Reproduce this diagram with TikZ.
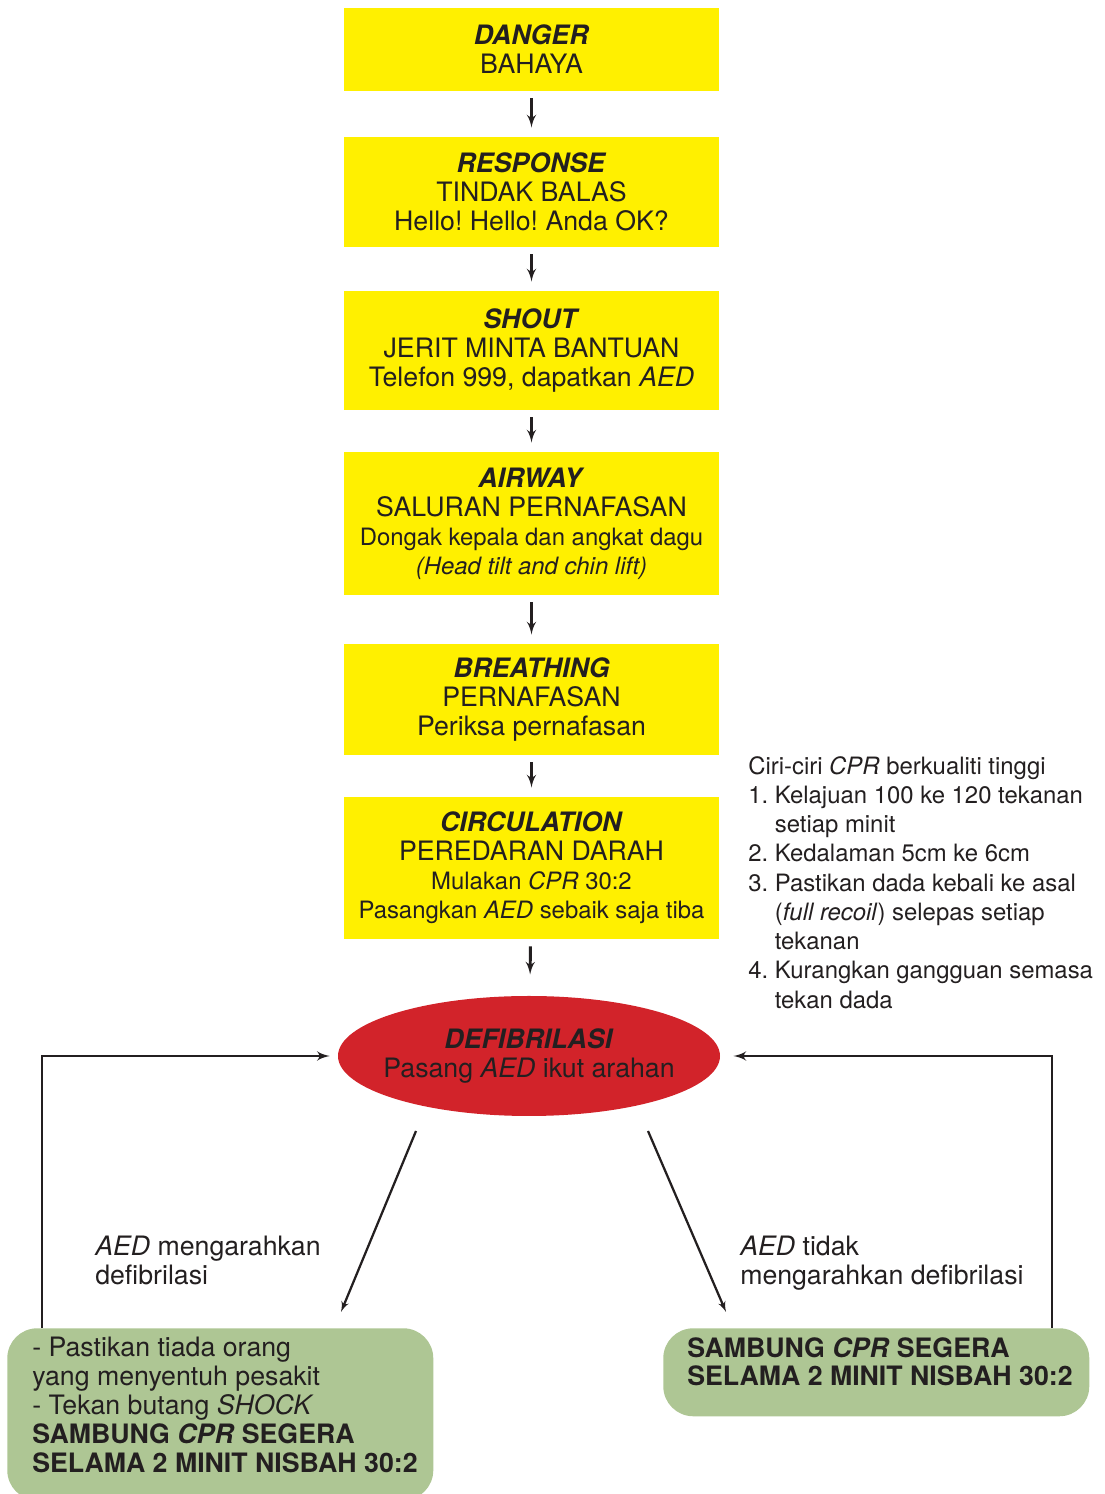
\documentclass[tikz,border=0pt]{standalone}
\usepackage{fontspec}
\setmainfont{TeX Gyre Heros}
\usepackage{tikz}
\usetikzlibrary{arrows,shapes.geometric,positioning}
\definecolor{cprYellow}{HTML}{FFF000}
\definecolor{cprRed}{HTML}{D2232A}
\definecolor{cprGreen}{HTML}{AEC694}
\definecolor{cprInk}{HTML}{231F20}
\frenchspacing
\newcommand{\mainsize}{\fontsize{19}{20.55}\selectfont}
\newcommand{\smallline}{\fontsize{17}{20.55}\selectfont}
\newcommand{\notesize}{\fontsize{17}{20.8}\selectfont}
\tikzstyle{stage}=[fill=cprYellow,minimum width=9.375cm,inner sep=0pt,align=center,font=\mainsize]
\tikzstyle{post}=[->,shorten >=0.23cm,shorten <=0.18cm,line width=2.1pt,>=latex']
\tikzstyle{back}=[->,line width=2.1pt,>=latex']
\tikzstyle{diag}=[->,line width=1.6pt,>=latex']
\tikzstyle{outcome}=[fill=cprGreen,rounded corners=0.75cm,minimum width=10.65cm,inner sep=0pt,anchor=north west]
\tikzstyle{plain}=[anchor=north west,inner sep=0pt,align=left]

\begin{document}
\begin{tikzpicture}[
    color=cprInk,
    text=cprInk
    ]
    \useasboundingbox (0,0) rectangle (27.625,37.35);
    \node[stage,minimum height=2.075cm](danger) at (13.2875,36.1125){\textbf{\textit{DANGER}}\\BAHAYA};
    \node[stage,minimum height=2.75cm](response) at (13.2875,32.55){\textbf{\textit{RESPONSE}}\\TINDAK BALAS\\Hello! Hello! Anda OK?};
    \node[stage,minimum height=2.975cm](shout) at (13.2875,28.5875){\textbf{\textit{SHOUT}}\\JERIT MINTA BANTUAN\\Telefon 999, dapatkan \textit{AED}};
    \node[stage,minimum height=3.575cm](airway) at (13.2875,24.2625){\textbf{\textit{AIRWAY}}\\SALURAN PERNAFASAN\\\smallline Dongak kepala dan angkat dagu\\\smallline\textit{(Head tilt and chin lift)}};
    \node[stage,minimum height=2.775cm](breathing) at (13.2875,19.8625){\textbf{\textit{BREATHING}}\\PERNAFASAN\\Periksa pernafasan};
    \node[stage,minimum height=3.55cm](circulation) at (13.2875,15.65){\textbf{\textit{CIRCULATION}}\\PEREDARAN DARAH\\\smallline Mulakan \textit{CPR} 30:2\\\smallline Pasangkan \textit{AED} sebaik saja tiba};
    \node[ellipse,fill=cprRed,minimum width=9.55cm,minimum height=3cm,inner xsep=-0.4cm,inner ysep=0pt,align=center,font=\mainsize](defib) at (13.225,10.95){\textbf{\textit{DEFIBRILASI}}\\Pasang \textit{AED} ikut arahan};
    \node[plain,font=\notesize](quality) at (18.7,18.45){Ciri-ciri \textit{CPR} berkualiti tinggi\\1. Kelajuan 100 ke 120 tekanan\\\phantom{1. }setiap minit\\2. Kedalaman 5cm ke 6cm\\3. Pastikan dada kebali ke asal\\\phantom{3. }(\textit{full recoil}) selepas setiap\\\phantom{3. }tekanan\\4. Kurangkan gangguan semasa\\\phantom{4. }tekan dada};
    \node[outcome,minimum height=4.3cm](shock) at (0.175,4.15){};
    \node[plain,font=\mainsize](shocktext) at ([shift={(0.625,-0.225)}]shock.north west){- Pastikan tiada orang\\yang menyentuh pesakit\\- Tekan butang \textit{SHOCK}\\\textbf{SAMBUNG \textit{CPR} SEGERA}\\\textbf{SELAMA 2 MINIT NISBAH 30:2}};
    \node[outcome,minimum height=2.2cm](noshock) at (16.575,4.15){};
    \node[plain,font=\mainsize](noshocktext) at ([shift={(0.6,-0.225)}]noshock.north west){\textbf{SAMBUNG \textit{CPR} SEGERA}\\\textbf{SELAMA 2 MINIT NISBAH 30:2}};
    \node[plain,font=\mainsize](yeslabel) at (2.375,6.45){\textit{AED} mengarahkan\\defibrilasi};
    \node[plain,font=\mainsize](nolabel) at (18.5,6.45){\textit{AED} tidak\\mengarahkan defibrilasi};
    \coordinate (fbL) at (1.05,0);
    \coordinate (fbR) at (26.3,0);
    \coordinate (yesfrom) at (10.4,9.075);
    \coordinate (yesto) at (8.525,4.55);
    \coordinate (nofrom) at (16.2,9.075);
    \coordinate (noto) at (18.15,4.55);
    \path[post]
    (danger) edge node {} (response)
    (response) edge node {} (shout)
    (shout) edge node {} (airway)
    (airway) edge node {} (breathing)
    (breathing) edge node {} (circulation)
    (circulation) edge [shorten >=0.53cm] node {} (defib)
    ;
    \draw[back,shorten >=0.2cm] (shock.north -| fbL) |- (defib);
    \draw[back,shorten >=0.33cm] (noshock.north -| fbR) |- (defib);
    \draw[diag] (yesfrom) -- (yesto);
    \draw[diag] (nofrom) -- (noto);
\end{tikzpicture}
\end{document}
